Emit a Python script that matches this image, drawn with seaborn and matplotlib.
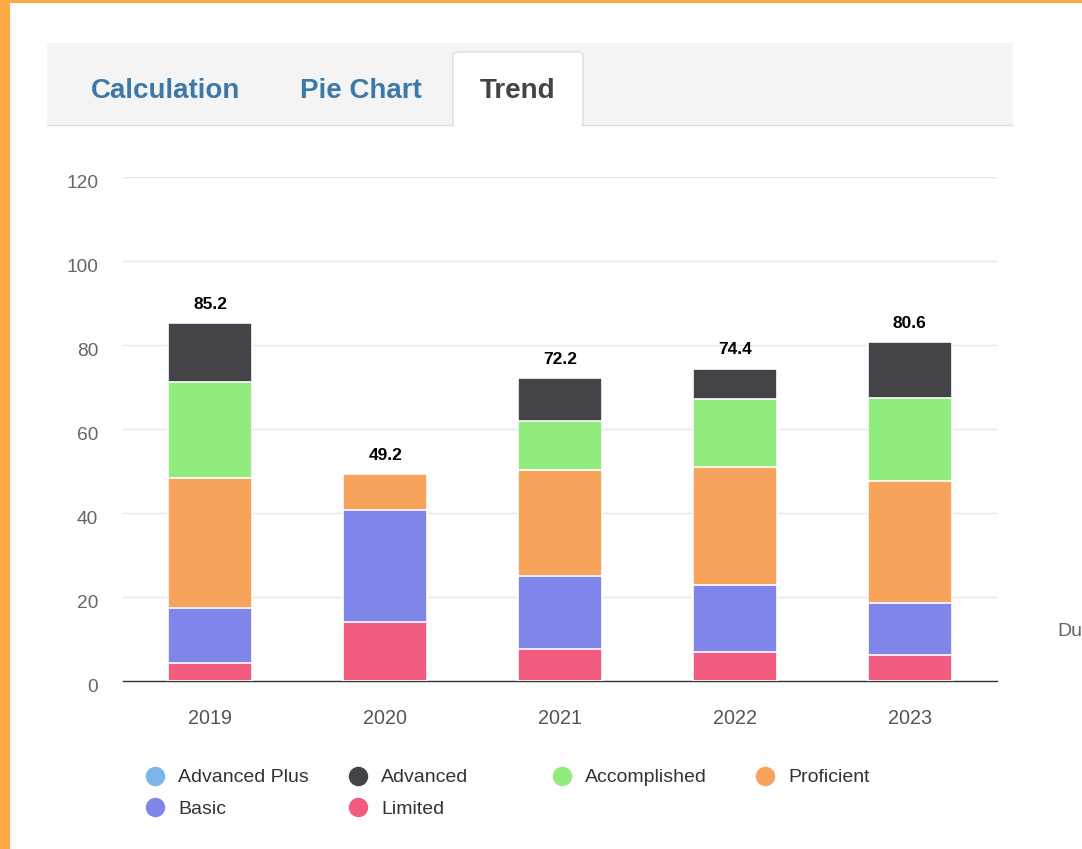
import numpy as np
import pandas as pd
import matplotlib
matplotlib.use('Agg')
import matplotlib.pyplot as plt
import seaborn as sns
from matplotlib.patches import Rectangle, FancyBboxPatch
from matplotlib.lines import Line2D
from matplotlib.transforms import ScaledTranslation

# 数据
years = ['2019', '2020', '2021', '2022', '2023']
series_names = ['Advanced Plus', 'Advanced', 'Accomplished', 'Proficient', 'Basic', 'Limited']
advanced_plus = [0.0, 0.0, 0.0, 0.0, 0.0]
advanced = [14.0, 0.0, 10.2, 7.3, 13.1]
accomplished = [22.9, 0.0, 11.7, 16.2, 19.8]
proficient = [30.9, 8.5, 25.2, 28.1, 29.1]
basic = [13.0, 26.7, 17.4, 15.9, 12.4]
limited = [4.4, 14.0, 7.7, 6.9, 6.2]
colors = ['#7cb5ec', '#434348', '#90ed7d', '#f7a35c', '#8085e9', '#f15c80']
y_ticks = [0, 20, 40, 60, 80, 100, 120]
tabs = ['Calculation', 'Pie Chart', 'Trend']

sns.set_theme(style='white')
plt.rcParams['font.family'] = ['Liberation Sans', 'DejaVu Sans']

W, H = 1082, 849
fig = plt.figure(figsize=(W / 100, H / 100), dpi=100)
fig.patch.set_facecolor('#fcaa45')


def fx(x):
    return x / W


def fy(y):
    return 1 - y / H


# 白色页面背景
fig.add_artist(Rectangle((fx(10), 0), 1, fy(3), transform=fig.transFigure,
                         facecolor='white', edgecolor='none', zorder=0))

# 选项卡
fig.add_artist(Rectangle((fx(47), fy(125)), fx(1013 - 47), (125 - 43) / H,
                         transform=fig.transFigure, facecolor='#f4f4f4',
                         edgecolor='none', zorder=1))
fig.add_artist(Line2D([fx(47), fx(1013)], [fy(125), fy(125)], transform=fig.transFigure,
                      color='#dddddd', lw=1, zorder=2))
fig.add_artist(FancyBboxPatch((fx(453), fy(127)), fx(583 - 453), (127 - 52) / H,
                              boxstyle='round,pad=0,rounding_size=0.005',
                              transform=fig.transFigure, facecolor='white',
                              edgecolor='#dddddd', lw=1, zorder=3))
fig.add_artist(Rectangle((fx(454), fy(128)), fx(583 - 455), 6 / H, transform=fig.transFigure,
                         facecolor='white', edgecolor='none', zorder=4))
tab_x = [166, 361, 518]
tab_colors = ['#3d79a8', '#3d79a8', '#444444']
for t, x, c in zip(tabs, tab_x, tab_colors):
    fig.text(fx(x), fy(91), t, ha='center', va='center', fontsize=20,
             fontweight='bold', color=c, zorder=5)

# 图表
ax = fig.add_axes([fx(123), fy(681), fx(997 - 123), (681 - 177) / H])
ax.set_facecolor('none')

df = pd.DataFrame({'year': years, 'Advanced Plus': advanced_plus, 'Advanced': advanced,
                   'Accomplished': accomplished, 'Proficient': proficient,
                   'Basic': basic, 'Limited': limited})
stack_order = ['Limited', 'Basic', 'Proficient', 'Accomplished', 'Advanced']
cum = df[stack_order].cumsum(axis=1)
color_map = dict(zip(series_names, colors))

# 从上往下画累计高度，形成堆叠柱
for name in reversed(stack_order):
    sns.barplot(x=df['year'], y=cum[name], color=color_map[name], width=0.48,
                edgecolor='white', linewidth=1.2, saturation=1, ax=ax, zorder=3)

totals = df[stack_order].sum(axis=1)
for i, tot in enumerate(totals):
    ax.annotate(f'{tot:.1f}', (i, tot), xytext=(0, 8), textcoords='offset points',
                ha='center', va='bottom', fontsize=12.5, fontweight='bold', color='#000000')

ax.set_ylim(0, 120)
ax.set_yticks(y_ticks)
ax.set_xlabel('')
ax.set_ylabel('')
ax.yaxis.grid(True, color='#e6e6e6', lw=1)
ax.set_axisbelow(True)
for s in ['top', 'right', 'left']:
    ax.spines[s].set_visible(False)
ax.spines['bottom'].set_color('#333333')
ax.spines['bottom'].set_linewidth(1)
ax.tick_params(axis='y', length=0, pad=18, labelsize=13.8, labelcolor='#666666')
ax.tick_params(axis='x', length=0, pad=20, labelsize=14.2, labelcolor='#555555')
for lbl in ax.get_yticklabels():
    lbl.set_transform(lbl.get_transform() + ScaledTranslation(0, -0.04, fig.dpi_scale_trans))

# 图例
legend_pos = [(155, 776), (358, 776), (562, 776), (765, 776), (155, 807), (358, 807)]
for name, c, (x, y) in zip(series_names, colors, legend_pos):
    fig.add_artist(Line2D([fx(x)], [fy(y)], marker='o', markersize=13, color=c,
                          linestyle='none', transform=fig.transFigure))
    fig.text(fx(x + 23), fy(y + 2), name, ha='left', va='center', fontsize=14, color='#333333')

fig.text(fx(1057), fy(631), 'Du', ha='left', va='center', fontsize=14, color='#666666')

fig.savefig('out.png', dpi=100, facecolor=fig.get_facecolor())
